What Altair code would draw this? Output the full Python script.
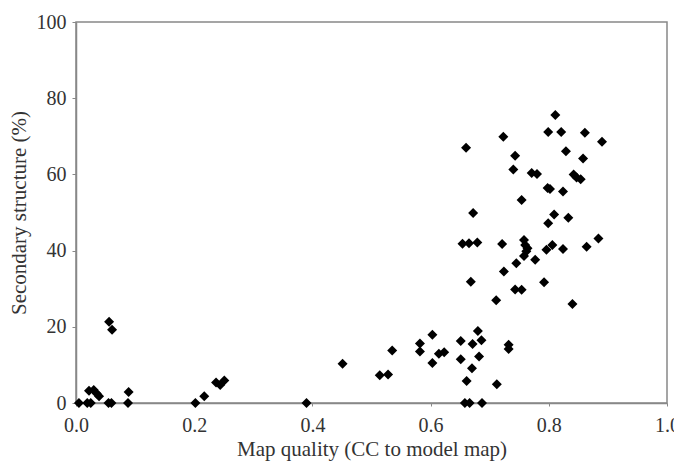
import altair as alt
import pandas as pd

# Map quality (CC to model map)
cc_vals = [
    0.005, 0.019, 0.025, 0.022, 0.030, 0.035, 0.039, 0.055, 0.060, 0.088, 0.089,
    0.056, 0.061,
    0.202, 0.217, 0.237, 0.244, 0.251,
    0.390, 0.451, 0.514, 0.528, 0.535, 0.582, 0.582, 0.603, 0.603, 0.614, 0.623,
    0.651, 0.671, 0.680, 0.686, 0.651, 0.682, 0.670, 0.661, 0.658, 0.666, 0.687,
    0.712, 0.732, 0.732,
    0.711, 0.724, 0.668, 0.654, 0.665, 0.679, 0.672, 0.660, 0.721,
    0.723, 0.743, 0.740, 0.754, 0.745, 0.743, 0.754,
    0.758, 0.760, 0.762, 0.758, 0.764, 0.777,
    0.771, 0.780, 0.792, 0.798, 0.802, 0.799, 0.799, 0.796, 0.806, 0.809,
    0.811, 0.821, 0.824, 0.824, 0.829, 0.833, 0.840, 0.842, 0.847, 0.854,
    0.858, 0.861, 0.864, 0.884, 0.890,
]
# Secondary structure (%)
ss_vals = [
    0.0, 0.0, 0.0, 3.2, 3.4, 2.5, 1.8, 0.0, 0.0, 0.0, 2.9,
    21.3, 19.2,
    0.0, 1.8, 5.4, 4.7, 5.9,
    0.0, 10.3, 7.3, 7.5, 13.8, 15.6, 13.5, 17.9, 10.5, 12.9, 13.3,
    16.3, 15.5, 18.9, 16.5, 11.5, 12.2, 9.1, 5.8, 0.0, 0.0, 0.0,
    4.9, 15.3, 14.2,
    27.0, 34.5, 31.8, 41.8, 41.9, 42.1, 49.9, 67.0, 41.7,
    69.9, 64.9, 61.3, 53.3, 36.7, 29.8, 29.7,
    42.8, 41.5, 39.8, 38.6, 40.6, 37.6,
    60.4, 60.1, 31.7, 56.4, 56.2, 71.1, 47.2, 40.2, 41.5, 49.5,
    75.6, 71.1, 55.5, 40.4, 66.1, 48.6, 26.0, 60.0, 59.2, 58.7,
    64.2, 70.9, 41.0, 43.2, 68.6,
]

x_ticks = [0.0, 0.2, 0.4, 0.6, 0.8, 1.0]
y_ticks = [0, 20, 40, 60, 80, 100]

df = pd.DataFrame({"cc": cc_vals, "ss": ss_vals})

chart = (
    alt.Chart(df)
    .mark_point(shape="diamond", filled=True, color="black", size=100, opacity=1)
    .encode(
        x=alt.X(
            "cc:Q",
            scale=alt.Scale(domain=[0, 1], nice=False),
            axis=alt.Axis(
                values=x_ticks,
                format=".1f",
                title="Map quality (CC to model map)",
                labelFlush=False,
                labelPadding=9,
                titlePadding=3,
                tickSize=3,
            ),
        ),
        y=alt.Y(
            "ss:Q",
            scale=alt.Scale(domain=[0, 100], nice=False),
            axis=alt.Axis(
                values=y_ticks,
                title="Secondary structure (%)",
                labelPadding=6,
                titlePadding=7,
            ),
        ),
    )
    .properties(
        width=591,
        height=381,
        autosize=alt.AutoSizeParams(type="none"),
        padding={"left": 68, "top": 14, "right": 7, "bottom": 58},
    )
    .configure_view(stroke="#888888", strokeWidth=1.5)
    .configure_axis(
        grid=False,
        domainColor="#888888",
        domainWidth=1.5,
        tickColor="#888888",
        tickSize=4,
        labelFont="Liberation Serif",
        titleFont="Liberation Serif",
        labelFontSize=20,
        titleFontSize=21,
        labelColor="#333333",
        titleColor="#333333",
        titleFontWeight="normal",
    )
)

chart.save("out.html", embed_options={"renderer": "svg", "actions": False})
